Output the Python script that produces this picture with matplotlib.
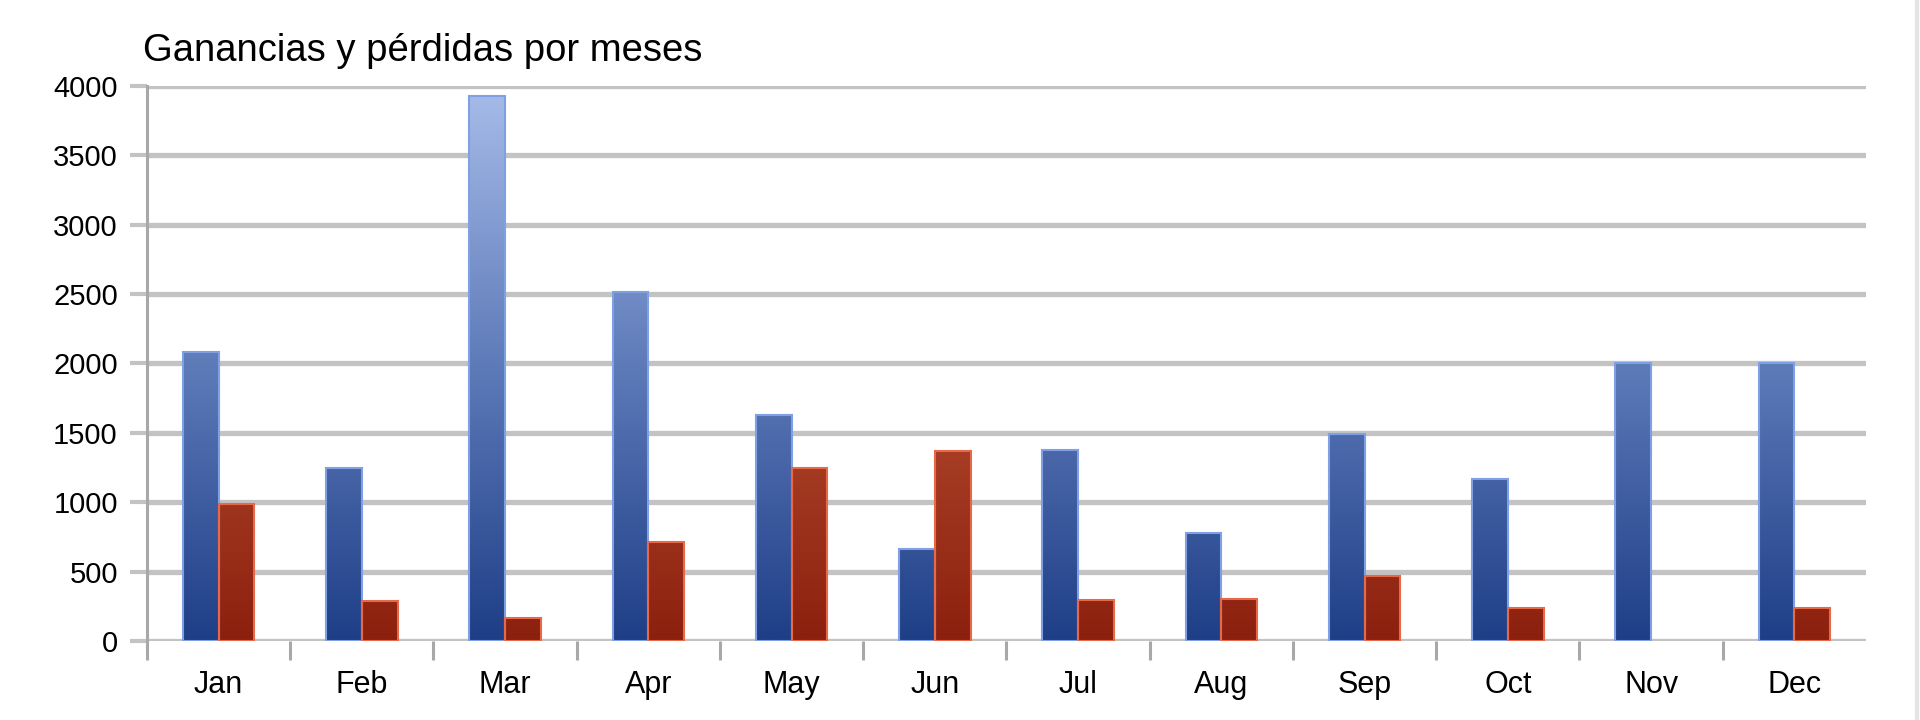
import numpy as np
import matplotlib
matplotlib.use("Agg")
import matplotlib.pyplot as plt
from matplotlib.colors import LinearSegmentedColormap

plt.rcParams['font.family'] = ['Liberation Sans', 'DejaVu Sans']

meses = ['Jan', 'Feb', 'Mar', 'Apr', 'May', 'Jun', 'Jul', 'Aug', 'Sep', 'Oct', 'Nov', 'Dec']
ganancias = [2080, 1245, 3930, 2515, 1630, 665, 1380, 780, 1495, 1170, 2000, 2000]
perdidas = [990, 285, 165, 710, 1245, 1370, 295, 305, 470, 240, 0, 240]
titulo = 'Ganancias y pérdidas por meses'

azul = LinearSegmentedColormap.from_list('azul', ['#1e3e87', '#5e7bb9', '#a7bce9'])
rojo = LinearSegmentedColormap.from_list('rojo', ['#8c200e', '#b24a2e', '#d98a6c'])

fig = plt.figure(figsize=(19.2, 7.2), dpi=100)
ax = fig.add_axes([147/1920, 1 - 641/720, (1866-147)/1920, (641-86)/720])

x = np.arange(len(meses))
w = 0.25
ymax = 4000


def barras(pos, vals, cmap, borde):
    for p, v in zip(pos, vals):
        if v <= 0:
            continue
        b = ax.bar(p, v, w, facecolor='none', edgecolor=borde, linewidth=1.5, zorder=3)[0]
        grad = np.linspace(0, v, 256).reshape(-1, 1)
        ax.imshow(grad, extent=(b.get_x(), b.get_x() + b.get_width(), 0, v),
                  origin='lower', aspect='auto', cmap=cmap, vmin=0, vmax=ymax, zorder=2.5)


barras(x - w/2, ganancias, azul, '#7fa0e4')
barras(x + w/2, perdidas, rojo, '#e8694a')

ax.set_xlim(-0.5, 11.5)
ax.set_ylim(0, ymax)
ax.set_yticks(np.arange(0, 4001, 500))

# category separators as major ticks, month names as minor labels
ax.set_xticks(np.arange(-0.5, 11, 1))
ax.set_xticklabels([])
ax.set_xticks(x, minor=True)
ax.set_xticklabels(meses, minor=True)
ax.tick_params(axis='x', which='major', direction='out', length=14, width=2.2, color='#a8a8a8')
ax.tick_params(axis='x', which='minor', length=0, pad=21, labelsize=22)
ax.tick_params(axis='y', direction='out', length=12, width=3, color='#c3c3c3', pad=9, labelsize=21)

ax.grid(axis='y', color='#c3c3c3', linewidth=3.8)
ax.set_axisbelow(True)
for s in ['top', 'right', 'bottom']:
    ax.spines[s].set_visible(False)
ax.spines['left'].set_color('#a8a8a8')
ax.spines['left'].set_linewidth(2.2)

fig.text(143/1920, 1 - 51/720, titulo, fontsize=27.5, va='center', ha='left')

# chart frame edge on the right
fig.add_artist(plt.Line2D([1917/1920, 1917/1920], [0, 1], color='#e4e4e4', lw=3))

fig.savefig('out.png', dpi=100)
